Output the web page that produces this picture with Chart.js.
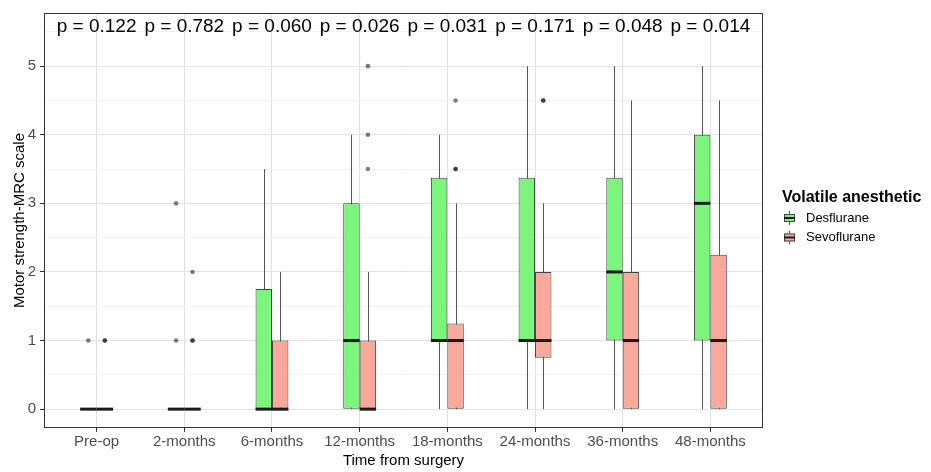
<!DOCTYPE html>
<html>
<head>
<meta charset="utf-8">
<script src="https://cdn.jsdelivr.net/npm/chart.js@4.4.1/dist/chart.umd.min.js"></script>
<style>
  html, body { margin: 0; padding: 0; background: #fff; }
  #wrap { width: 931px; height: 472px; }
</style>
</head>
<body>
<div id="wrap"><canvas id="boxChart" width="931" height="472"></canvas></div>
<script>
// Kategori waktu dan kelompok anestesi
const categories = ['Pre-op', '2-months', '6-months', '12-months', '18-months', '24-months', '36-months', '48-months'];
const groups = ['Desflurane', 'Sevoflurane'];
const pValues = [0.122, 0.782, 0.060, 0.026, 0.031, 0.171, 0.048, 0.014];
const yTicks = [0, 1, 2, 3, 4, 5];

// Statistik boxplot Desflurane
const desLow  = [0, 0, 0, 0, 0, 0, 0, 0];
const desQ1   = [0, 0, 0, 0, 1, 1, 1, 1];
const desMed  = [0, 0, 0, 1, 1, 1, 2, 3];
const desQ3   = [0, 0, 1.75, 3, 3.375, 3.375, 3.375, 4];
const desHigh = [0, 0, 3.5, 4, 4, 5, 5, 5];
const desOutliers = [[1], [1, 3], [], [], [], [], [], []];

// Statistik boxplot Sevoflurane
const sevLow  = [0, 0, 0, 0, 0, 0, 0, 0];
const sevQ1   = [0, 0, 0, 0, 0, 0.75, 0, 0];
const sevMed  = [0, 0, 0, 0, 1, 1, 1, 1];
const sevQ3   = [0, 0, 1, 1, 1.25, 2, 2, 2.25];
const sevHigh = [0, 0, 2, 2, 3, 3, 4.5, 4.5];
const sevOutliers = [[1, 1], [1, 1, 2], [], [3.5, 4, 5], [3.5, 3.5, 4.5], [4.5, 4.5], [], []];

const colors = ['#7cf57c', '#f8a99c'];
const dodge = 0.094;
const pLabelY = 5.5;

const boxStats = [
    { low: desLow, q1: desQ1, med: desMed, q3: desQ3, high: desHigh },
    { low: sevLow, q1: sevQ1, med: sevMed, q3: sevQ3, high: sevHigh }
];

function boxData(stats) {
    return categories.map((c, i) => ({ x: i, y: [stats.q1[i], stats.q3[i]] }));
}

function outlierData(list, shift) {
    const pts = [];
    list.forEach((vals, i) => vals.forEach(v => pts.push({ x: i + shift, y: v })));
    return pts;
}

// Kumis (whisker) digambar di bawah kotak, median di atasnya
const boxPlugin = {
    id: 'boxParts',
    beforeDatasetsDraw(chart) {
        const ctx = chart.ctx;
        const y = chart.scales.y;
        ctx.save();
        ctx.strokeStyle = '#555';
        ctx.lineWidth = 1;
        boxStats.forEach((st, d) => {
            chart.getDatasetMeta(d).data.forEach((bar, i) => {
                if (st.high[i] === st.low[i]) return;
                const x = Math.round(bar.x) + 0.5;
                ctx.beginPath();
                ctx.moveTo(x, y.getPixelForValue(st.low[i]));
                ctx.lineTo(x, y.getPixelForValue(st.high[i]));
                ctx.stroke();
            });
        });
        ctx.restore();
    },
    afterDatasetsDraw(chart) {
        const ctx = chart.ctx;
        const x = chart.scales.x;
        const y = chart.scales.y;
        const area = chart.chartArea;
        ctx.save();
        ctx.strokeStyle = '#1a1a1a';
        ctx.lineWidth = 3;
        boxStats.forEach((st, d) => {
            chart.getDatasetMeta(d).data.forEach((bar, i) => {
                const py = y.getPixelForValue(st.med[i]);
                ctx.beginPath();
                ctx.moveTo(bar.x - bar.width / 2, py);
                ctx.lineTo(bar.x + bar.width / 2, py);
                ctx.stroke();
            });
        });
        // label nilai p
        ctx.fillStyle = '#000';
        ctx.font = '19px "Liberation Sans", Arial, sans-serif';
        ctx.textAlign = 'center';
        ctx.textBaseline = 'alphabetic';
        pValues.forEach((p, i) => {
            ctx.fillText('p = ' + p.toFixed(3), x.getPixelForValue(i), y.getPixelForValue(pLabelY));
        });
        // bingkai panel
        ctx.strokeStyle = '#333';
        ctx.lineWidth = 1;
        ctx.strokeRect(Math.round(area.left) + 0.5, Math.round(area.top) + 0.5,
            Math.round(area.right - area.left) - 1, Math.round(area.bottom - area.top) - 1);
        ctx.restore();
    },
    afterDraw(chart) {
        // legenda ala ggplot
        const ctx = chart.ctx;
        ctx.save();
        ctx.fillStyle = '#000';
        ctx.textAlign = 'left';
        ctx.textBaseline = 'middle';
        ctx.font = 'bold 16px "Liberation Sans", Arial, sans-serif';
        ctx.fillText('Volatile anesthetic', 782, 198);
        ctx.font = '13px "Liberation Sans", Arial, sans-serif';
        groups.forEach((g, k) => {
            const cy = 218 + k * 19.5;
            const cx = 789;
            ctx.strokeStyle = '#555';
            ctx.lineWidth = 1;
            ctx.beginPath();
            ctx.moveTo(cx + 0.5, cy - 7);
            ctx.lineTo(cx + 0.5, cy + 7);
            ctx.stroke();
            ctx.fillStyle = colors[k];
            ctx.fillRect(cx - 5, cy - 4, 11, 8);
            ctx.strokeStyle = '#444';
            ctx.strokeRect(cx - 4.5, cy - 3.5, 10, 7);
            ctx.strokeStyle = '#1a1a1a';
            ctx.lineWidth = 2;
            ctx.beginPath();
            ctx.moveTo(cx - 5, cy);
            ctx.lineTo(cx + 6, cy);
            ctx.stroke();
            ctx.fillStyle = '#000';
            ctx.fillText(g, 806, cy);
        });
        ctx.restore();
    }
};

const datasets = [
    {
        type: 'bar', label: groups[0], data: boxData(boxStats[0]),
        backgroundColor: colors[0], borderColor: '#444', borderWidth: 1, borderSkipped: false,
        categoryPercentage: 0.375, barPercentage: 1, order: 2
    },
    {
        type: 'bar', label: groups[1], data: boxData(boxStats[1]),
        backgroundColor: colors[1], borderColor: '#444', borderWidth: 1, borderSkipped: false,
        categoryPercentage: 0.375, barPercentage: 1, order: 2
    },
    {
        type: 'scatter', label: groups[0] + ' outliers', data: outlierData(desOutliers, -dodge),
        backgroundColor: 'rgba(0,0,0,0.5)', borderWidth: 0, pointRadius: 2.3, order: 1
    },
    {
        type: 'scatter', label: groups[1] + ' outliers', data: outlierData(sevOutliers, dodge),
        backgroundColor: 'rgba(0,0,0,0.5)', borderWidth: 0, pointRadius: 2.3, order: 1
    }
];

const tickFont = { family: '"Liberation Sans", Arial, sans-serif', size: 15 };

new Chart(document.getElementById('boxChart'), {
    type: 'bar',
    data: { datasets: datasets },
    options: {
        responsive: false,
        animation: false,
        events: [],
        layout: { padding: { top: 8, right: 168, left: 0, bottom: 0 } },
        plugins: { legend: { display: false }, tooltip: { enabled: false } },
        scales: {
            x: {
                type: 'linear',
                min: -0.6,
                max: categories.length - 0.4,
                offset: false,
                afterBuildTicks: (s) => { s.ticks = categories.map((c, i) => ({ value: i })); },
                afterFit: (s) => { s.height = 44; },
                ticks: {
                    callback: (v) => categories[v] ?? '',
                    color: '#4d4d4d', font: tickFont, padding: 1, maxRotation: 0, autoSkip: false
                },
                grid: { offset: false, color: '#e0e0e0', tickColor: '#333', tickLength: 4 },
                border: { display: false },
                title: {
                    display: true, text: 'Time from surgery', color: '#000',
                    font: tickFont, padding: { top: 0, bottom: 2 }
                }
            },
            y: {
                min: -0.275,
                max: 5.775,
                afterBuildTicks: (s) => {
                    const t = [];
                    for (let v = 0; v <= 5.5; v += 0.5) t.push({ value: v });
                    s.ticks = t;
                },
                afterFit: (s) => { s.width = 44; },
                ticks: {
                    callback: (v) => yTicks.includes(v) ? String(v) : '',
                    color: '#4d4d4d', font: tickFont, padding: 4
                },
                grid: {
                    color: (c) => (c.tick && c.tick.value % 1 === 0) ? '#e3e3e3' : '#f2f2f2',
                    tickColor: (c) => (c.tick && c.tick.value % 1 === 0 && c.tick.value <= 5) ? '#333' : 'rgba(0,0,0,0)',
                    tickLength: 4
                },
                border: { display: false },
                title: {
                    display: true, text: 'Motor strength-MRC scale', color: '#000',
                    font: tickFont, padding: { top: 11, bottom: 0 }
                }
            }
        }
    },
    plugins: [boxPlugin]
});
</script>
</body>
</html>
